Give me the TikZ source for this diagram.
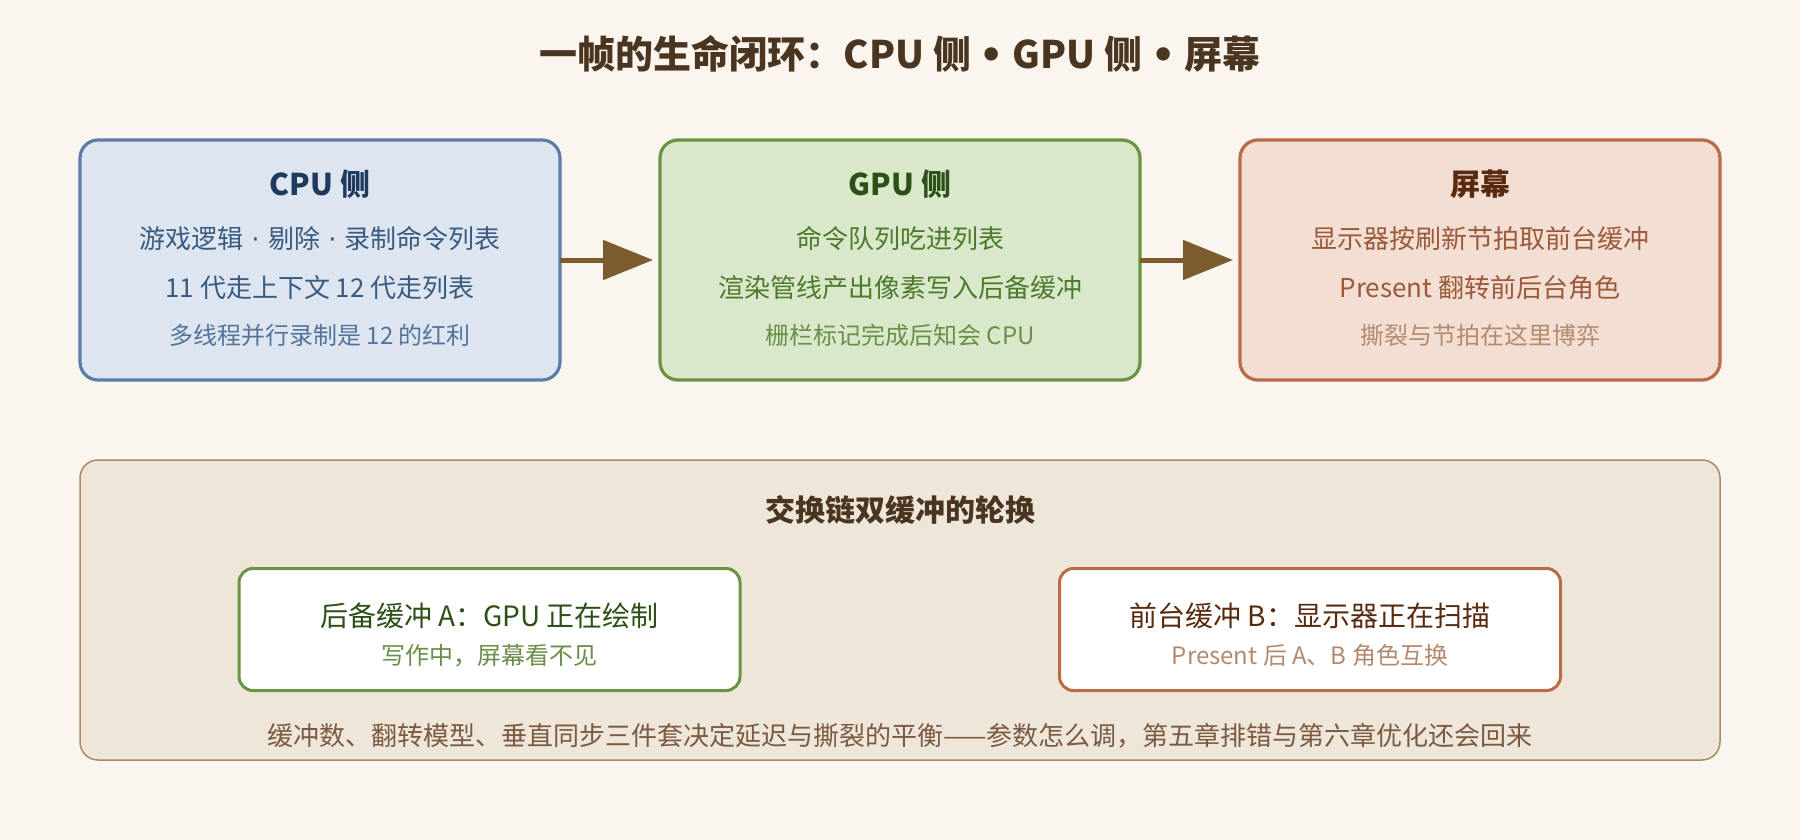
\documentclass[tikz,border=0pt]{standalone}
\usepackage{fontspec}
\setmainfont{Noto Sans CJK SC}
\newfontfamily\latinf{DejaVu Sans}
\newcommand{\mdot}{{\latinf\ ·\ }}
\newcommand{\bdot}{\ {\latinf •}\ }
\usetikzlibrary{arrows.meta}
\definecolor{bg}{HTML}{FAF5EE}
\definecolor{ink}{HTML}{4A3520}
\definecolor{arrowc}{HTML}{7A5C2E}
\definecolor{cpufill}{HTML}{DDE5F0}
\definecolor{cpuline}{HTML}{5A7CA8}
\definecolor{cputitle}{HTML}{1E3A5C}
\definecolor{cputext}{HTML}{3A5A80}
\definecolor{cpunote}{HTML}{55739A}
\definecolor{gpufill}{HTML}{D9E7CB}
\definecolor{gpuline}{HTML}{6A9444}
\definecolor{gputitle}{HTML}{2D5016}
\definecolor{gputext}{HTML}{4E7A2C}
\definecolor{gpunote}{HTML}{6A8F48}
\definecolor{scrfill}{HTML}{F3DED3}
\definecolor{scrline}{HTML}{B86B45}
\definecolor{scrtitle}{HTML}{5A2A10}
\definecolor{scrtext}{HTML}{9A5A3A}
\definecolor{scrnote}{HTML}{B38A6E}
\definecolor{panfill}{HTML}{EFE6DA}
\definecolor{panline}{HTML}{A88B62}
\definecolor{pantext}{HTML}{7A5A40}
\begin{document}
\begin{tikzpicture}[x=1pt,y=-1pt,
  bigbox/.style={draw, line width=3.2pt, rounded corners=18pt, outer sep=0pt, inner sep=0pt,
    minimum width=480pt, minimum height=240pt},
  smallbox/.style={draw, line width=3pt, rounded corners=14pt, outer sep=0pt, inner sep=0pt,
    fill=white, minimum width=501pt, minimum height=122pt},
  lbl/.style={anchor=base, inner sep=0pt},
  fTitle/.style={lbl, font=\fontsize{38}{46}\selectfont\bfseries},
  fHead/.style={lbl, font=\fontsize{30}{36}\selectfont\bfseries},
  fLine/.style={lbl, font=\fontsize{26}{31}\selectfont},
  fNote/.style={lbl, font=\fontsize{24}{29}\selectfont},
  fInner/.style={lbl, font=\fontsize{28}{34}\selectfont},
  flow/.style={draw=arrowc, line width=5pt, -{Triangle[length=50pt,width=39pt]}, shorten >=7pt}
]
\useasboundingbox[fill=bg] (0,0) rectangle (1800,840);

\node[fTitle, text=ink] (title) at (900,69) {一帧的生命闭环：CPU 侧\bdot GPU 侧\bdot 屏幕};

% top boxes
\node[bigbox, fill=cpufill, draw=cpuline] (cpu) at (320,260) {};
\node[bigbox, fill=gpufill, draw=gpuline] (gpu) at (900,260) {};
\node[bigbox, fill=scrfill, draw=scrline] (scr) at (1480,260) {};

\node[fHead, text=cputitle] (cpuH) at (320,196) {CPU 侧};
\node[fLine, text=cputext] (cpuA) at (320,248.5) {游戏逻辑\mdot 剔除\mdot 录制命令列表};
\node[fLine, text=cputext] (cpuB) at (320,297) {11 代走上下文 12 代走列表};
\node[fNote, text=cpunote] (cpuC) at (320,344.5) {多线程并行录制是 12 的红利};

\node[fHead, text=gputitle] (gpuH) at (900,196) {GPU 侧};
\node[fLine, text=gputext] (gpuA) at (900,248.5) {命令队列吃进列表};
\node[fLine, text=gputext] (gpuB) at (900,297) {渲染管线产出像素写入后备缓冲};
\node[fNote, text=gpunote] (gpuC) at (900,344.5) {栅栏标记完成后知会 CPU};

\node[fHead, text=scrtitle] (scrH) at (1480,196) {屏幕};
\node[fLine, text=scrtext] (scrA) at (1480,248.5) {显示器按刷新节拍取前台缓冲};
\node[fLine, text=scrtext] (scrB) at (1480,297) {Present 翻转前后台角色};
\node[fNote, text=scrnote] (scrC) at (1480,344.5) {撕裂与节拍在这里博弈};

\draw[flow] (cpu.east) -- (gpu.west);
\draw[flow] (gpu.east) -- (scr.west);

% bottom panel
\node[draw=panline, fill=panfill, line width=1.5pt, rounded corners=18pt, outer sep=0pt,
  minimum width=1640pt, minimum height=300pt] (panel) at (900,610) {};
\node[fHead, text=ink] (panH) at (900,521) {交换链双缓冲的轮换};

\node[smallbox, draw=gpuline] (bufA) at (489.5,629.5) {};
\node[fInner, text=gputitle] (bufA1) at (489.5,626) {后备缓冲 A：GPU 正在绘制};
\node[fNote, text=gpunote] (bufA2) at (489.5,664) {写作中，屏幕看不见};

\node[smallbox, draw=scrline] (bufB) at (1310,629.5) {};
\node[fInner, text=scrtitle] (bufB1) at (1310,626) {前台缓冲 B：显示器正在扫描};
\node[fNote, text=scrnote] (bufB2) at (1310,664) {Present 后 A、B 角色互换};

\node[fLine, text=pantext] (foot) at (900,745) {缓冲数、翻转模型、垂直同步三件套决定延迟与撕裂的平衡——参数怎么调，第五章排错与第六章优化还会回来};
\end{tikzpicture}
\end{document}
